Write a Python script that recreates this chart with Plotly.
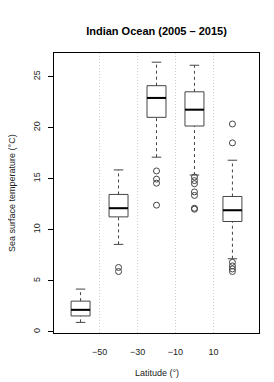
import plotly.graph_objects as go

# ---- data ----
latitudes = [-60, -40, -20, 0, 20]
q1 = [1.55, 11.25, 21.0, 20.15, 10.8]
medians = [2.15, 12.1, 22.9, 21.75, 11.9]
q3 = [3.0, 13.45, 24.1, 23.5, 13.25]
lower_whisker = [0.92, 8.56, 17.1, 15.35, 7.15]
upper_whisker = [4.18, 15.85, 26.4, 26.1, 16.8]
outliers = [
    [],
    [6.3, 5.9],
    [15.75, 14.95, 14.55, 12.4],
    [15.15, 14.8, 14.5, 13.7, 13.35, 12.1, 12.0],
    [20.35, 18.5, 6.8, 6.45, 6.15, 5.9],
]
x_ticks = [-50, -30, -10, 10]
y_ticks = [0, 5, 10, 15, 20, 25]

BOX_W = 10.0   # box width in latitude units
CAP_W = 5.0
LINE_C = "#444444"

fig = go.Figure()

# boxes (body only)
fig.add_trace(go.Box(
    x=latitudes, q1=q1, median=medians, q3=q3,
    lowerfence=q1, upperfence=q3,
    width=BOX_W, fillcolor="white",
    line=dict(color=LINE_C, width=1),
    whiskerwidth=0, boxpoints=False, hoverinfo="skip", showlegend=False,
))

# thick medians
mx, my = [], []
for x, m in zip(latitudes, medians):
    mx += [x - BOX_W / 2, x + BOX_W / 2, None]
    my += [m, m, None]
fig.add_trace(go.Scatter(x=mx, y=my, mode="lines",
                         line=dict(color="black", width=2),
                         showlegend=False, hoverinfo="skip"))

# dashed whiskers
wx, wy = [], []
for x, a, b, c, d in zip(latitudes, lower_whisker, q1, q3, upper_whisker):
    wx += [x, x, None, x, x, None]
    wy += [a, b, None, c, d, None]
fig.add_trace(go.Scatter(x=wx, y=wy, mode="lines",
                         line=dict(color=LINE_C, width=1, dash="3px,3px"),
                         showlegend=False, hoverinfo="skip"))

# caps
cx, cy = [], []
for x, a, d in zip(latitudes, lower_whisker, upper_whisker):
    cx += [x - CAP_W / 2, x + CAP_W / 2, None, x - CAP_W / 2, x + CAP_W / 2, None]
    cy += [a, a, None, d, d, None]
fig.add_trace(go.Scatter(x=cx, y=cy, mode="lines",
                         line=dict(color=LINE_C, width=1),
                         showlegend=False, hoverinfo="skip"))

# outliers
ox, oy = [], []
for x, vals in zip(latitudes, outliers):
    ox += [x] * len(vals)
    oy += vals
fig.add_trace(go.Scatter(x=ox, y=oy, mode="markers",
                         marker=dict(symbol="circle-open", size=6,
                                     color=LINE_C, line=dict(width=1)),
                         showlegend=False, hoverinfo="skip"))

FONT = "Liberation Sans, Arial, sans-serif"
fig.update_layout(
    width=274, height=382,
    margin=dict(l=46, r=23, t=45, b=57),
    paper_bgcolor="white", plot_bgcolor="white",
    font=dict(family=FONT, size=9, color="black"),
    title=dict(text="<b>Indian Ocean (2005 – 2015)</b>",
               font=dict(family=FONT, size=11, color="black"),
               x=0.5, xref="paper", xanchor="center",
               y=1 - 23 / 382, yref="container", yanchor="middle"),
    xaxis=dict(range=[-74, 34], tickmode="array", tickvals=x_ticks,
               ticktext=["−50", "−30", "−10", "10"],
               tickfont=dict(color="#222222"),
               showgrid=True, gridcolor="#cfcfcf", griddash="1px,2px", gridwidth=1,
               zeroline=False, showline=True, linecolor="black", linewidth=1,
               mirror=True, ticks="", ticklabelstandoff=10),
    yaxis=dict(range=[-0.12, 27.3], tickmode="array", tickvals=y_ticks,
               tickfont=dict(color="#222222"),
               showgrid=False, zeroline=False, showline=True,
               linecolor="black", linewidth=1, mirror=True,
               ticks="outside", ticklen=5, tickcolor="black",
               tickangle=-90, ticklabelstandoff=4),
    annotations=[
        dict(text="Sea surface temperature (°C)", xref="paper", yref="paper",
             x=-0.205, y=0.5, xanchor="center", yanchor="middle",
             textangle=-90, showarrow=False,
             font=dict(family=FONT, size=9, color="#222222")),
        dict(text="Latitude (°)", xref="paper", yref="paper",
             x=0.5, y=-0.143, xanchor="center", yanchor="middle",
             showarrow=False,
             font=dict(family=FONT, size=9, color="#222222")),
    ],
)

fig.write_html("out.html")
